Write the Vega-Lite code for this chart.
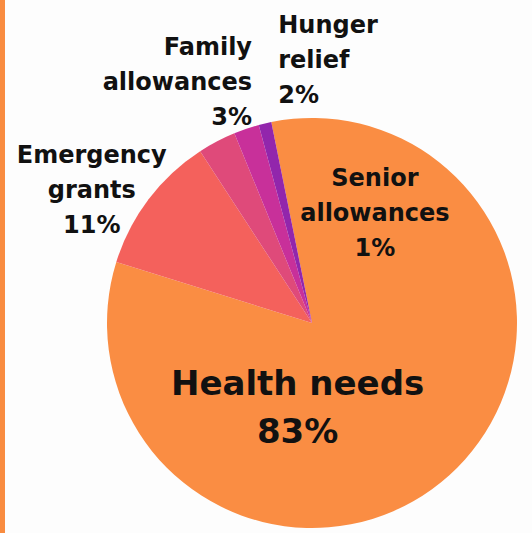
{
  "$schema": "https://vega.github.io/schema/vega-lite/v6.json",
  "background": "#FDFDFD",
  "padding": 0,
  "bounds": "flush",
  "spacing": 102,
  "config": {"view": {"stroke": null}},
  "hconcat": [
    {
      "data": {"values": [{"part": "edge"}]},
      "mark": {"type": "rect", "color": "#F98C40"},
      "width": 5,
      "height": 533
    },
    {
      "bounds": "flush",
      "spacing": 10,
      "vconcat": [
        {
          "data": {"values": [{"part": "space"}]},
          "mark": {"type": "rect", "opacity": 0},
          "width": 410,
          "height": 108
        },
        {
          "width": 410,
          "height": 410,
          "data": {
            "values": [
              {"category": "Health needs", "value": 83, "label": ["Health needs", "83%"]},
              {"category": "Emergency grants", "value": 11, "label": ["Emergency", "grants", "11%"]},
              {"category": "Family allowances", "value": 3, "label": ["Family", "allowances", "3%"]},
              {"category": "Hunger relief", "value": 2, "label": ["Hunger", "relief", "2%"]},
              {"category": "Senior allowances", "value": 1, "label": ["Senior", "allowances", "1%"]}
            ]
          },
          "encoding": {
            "theta": {"field": "value", "type": "quantitative", "stack": true, "scale": {"range": [-0.2, 6.0832]}},
            "order": {"field": "value", "type": "quantitative", "sort": "descending"}
          },
          "layer": [
            {
              "mark": {"type": "arc", "stroke": null},
              "encoding": {
                "color": {
                  "field": "category", "type": "nominal", "legend": null,
                  "scale": {
                    "domain": ["Health needs", "Emergency grants", "Family allowances", "Hunger relief", "Senior allowances"],
                    "range": ["#FA8D43", "#F4615C", "#DF4A7A", "#C8309A", "#9226AC"]
                  }
                }
              }
            },
            {
              "mark": {"type": "text", "radius": 80, "dx": -68, "dy": 13, "fontSize": 34, "lineHeight": 48, "align": "center", "baseline": "alphabetic", "font": "DejaVu Sans", "fontWeight": "bold"},
              "encoding": {
                "detail": {"field": "category", "type": "nominal"},
                "color": {"value": "#111111"},
                "text": {"condition": {"test": "datum.category === 'Health needs'", "field": "label", "type": "nominal"}, "value": ""}
              }
            },
            {
              "mark": {"type": "text", "radius": 270, "dx": -5, "dy": 3, "fontSize": 24, "lineHeight": 35, "align": "center", "baseline": "alphabetic", "font": "DejaVu Sans", "fontWeight": "bold"},
              "encoding": {
                "detail": {"field": "category", "type": "nominal"},
                "color": {"value": "#111111"},
                "text": {"condition": {"test": "datum.category === 'Emergency grants'", "field": "label", "type": "nominal"}, "value": ""}
              }
            },
            {
              "mark": {"type": "text", "radius": 280, "dx": 70, "dy": -20, "fontSize": 24, "lineHeight": 35, "align": "right", "baseline": "alphabetic", "font": "DejaVu Sans", "fontWeight": "bold"},
              "encoding": {
                "detail": {"field": "category", "type": "nominal"},
                "color": {"value": "#111111"},
                "text": {"condition": {"test": "datum.category === 'Family allowances'", "field": "label", "type": "nominal"}, "value": ""}
              }
            },
            {
              "mark": {"type": "text", "radius": 290, "dx": 59, "dy": -15, "fontSize": 24, "lineHeight": 35, "align": "left", "baseline": "alphabetic", "font": "DejaVu Sans", "fontWeight": "bold"},
              "encoding": {
                "detail": {"field": "category", "type": "nominal"},
                "color": {"value": "#111111"},
                "text": {"condition": {"test": "datum.category === 'Hunger relief'", "field": "label", "type": "nominal"}, "value": ""}
              }
            },
            {
              "mark": {"type": "text", "radius": 140, "dx": 95, "dy": -1, "fontSize": 24, "lineHeight": 35, "align": "center", "baseline": "alphabetic", "font": "DejaVu Sans", "fontWeight": "bold"},
              "encoding": {
                "detail": {"field": "category", "type": "nominal"},
                "color": {"value": "#111111"},
                "text": {"condition": {"test": "datum.category === 'Senior allowances'", "field": "label", "type": "nominal"}, "value": ""}
              }
            }
          ]
        }
      ]
    }
  ]
}
